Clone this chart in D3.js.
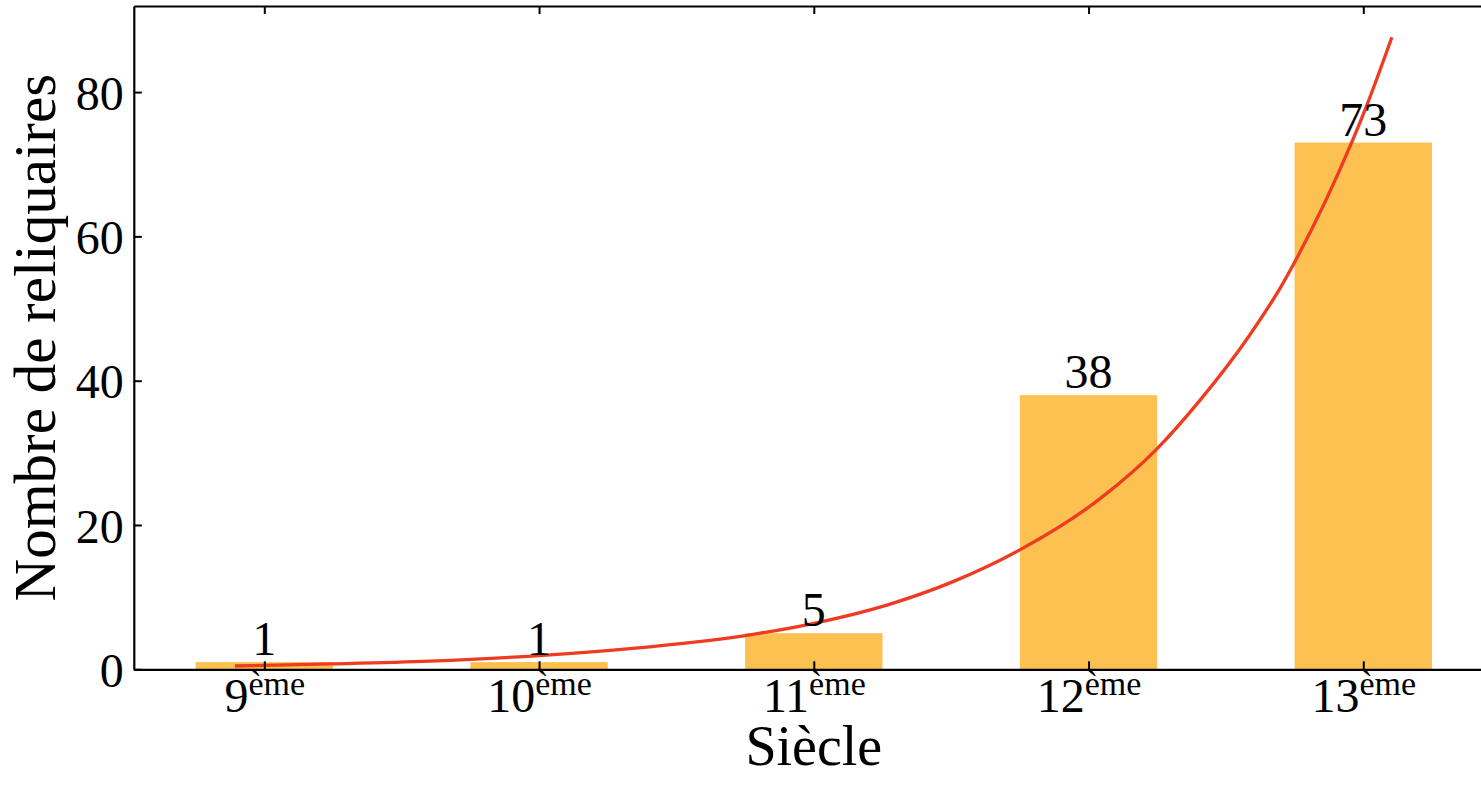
<!DOCTYPE html>
<html>
<head>
<meta charset="utf-8">
<script src="https://cdn.jsdelivr.net/npm/d3@7"></script>
<style>
  html, body { margin: 0; padding: 0; background: #fff; overflow: hidden; }
  svg { display: block; }
  text { font-family: "Liberation Serif", "DejaVu Serif", serif; fill: #000; }
</style>
</head>
<body>
<div id="chart"></div>
<script>
// data
const centuries = [9, 10, 11, 12, 13];
const counts = [1, 1, 5, 38, 73];
const centuryLabels = ["9", "10", "11", "12", "13"];
const yTicks = [0, 20, 40, 60, 80];
// fitted trend curve (century, value)
const trendX = [8.893, 9.0, 9.239, 9.603, 10.0, 10.331, 10.779, 11.001, 11.266, 11.507,
                11.75, 12.042, 12.249, 12.406, 12.588, 12.7, 12.744, 12.952, 13.006, 13.104];
const trendY = [0.46, 0.54, 0.74, 1.13, 1.9, 2.87, 4.85, 6.38, 8.9, 12.15,
                16.55, 23.65, 30.55, 37.3, 46.4, 53.0, 56.0, 72.5, 77.5, 87.6];

const svgWidth = 1481,
      svgHeight = 786,
      margin = {top: 6, left: 133.8},
      width = 1360,
      height = 663.3;

let scaleX = d3.scaleLinear().domain([8.525, 13.475]).range([0, width]),
    scaleY = d3.scaleLinear().domain([0, 91.93]).range([height, 0]);

let svg = d3.select("#chart")
  .append("svg")
  .attr("width", svgWidth)
  .attr("height", svgHeight);

let g = svg.append("g")
  .attr("transform", "translate(" + margin.left + "," + margin.top + ")");

// bars
g.selectAll("rect.bar")
  .data(centuries)
  .enter()
  .append("rect")
  .attr("class", "bar")
  .attr("x", (d) => scaleX(d - 0.25))
  .attr("width", scaleX(0.5) - scaleX(0))
  .attr("y", (d, i) => scaleY(counts[i]))
  .attr("height", (d, i) => height - scaleY(counts[i]))
  .attr("fill", "#fdc151");

// trend line
let line = d3.line()
  .x((d, i) => scaleX(trendX[i]))
  .y((d) => scaleY(d))
  .curve(d3.curveMonotoneX);

g.append("path")
  .datum(trendY)
  .attr("d", line)
  .attr("fill", "none")
  .attr("stroke", "#ee3b22")
  .attr("stroke-width", 3.3);

// value labels
g.selectAll("text.val")
  .data(centuries)
  .enter()
  .append("text")
  .attr("class", "val")
  .attr("x", (d) => scaleX(d))
  .attr("y", (d, i) => scaleY(counts[i]) - 7)
  .attr("text-anchor", "middle")
  .style("font-size", "48px")
  .text((d, i) => counts[i]);

// axes, ticks pointing inward on all four sides
function styleAxis(sel) {
  sel.attr("font-family", null).attr("font-size", null);
  sel.select(".domain").attr("stroke", "#000").attr("stroke-width", 2.2);
  sel.selectAll(".tick line").attr("stroke", "#000").attr("stroke-width", 2);
}

let xAxis = g.append("g")
  .attr("transform", "translate(0," + height + ")")
  .call(d3.axisBottom(scaleX).tickValues(centuries).tickSizeInner(-8).tickSizeOuter(0))
  .call(styleAxis);

xAxis.selectAll(".tick text")
  .attr("y", 42.7)
  .attr("dy", null)
  .style("font-size", "48px")
  .text(null)
  .each(function(d, i) {
    let t = d3.select(this);
    t.append("tspan").text(centuryLabels[i]);
    t.append("tspan").attr("dy", -17).style("font-size", "34px").text("ème");
  });

let yAxis = g.append("g")
  .call(d3.axisLeft(scaleY).tickValues(yTicks).tickSizeInner(-8).tickSizeOuter(0).tickPadding(10))
  .call(styleAxis);

yAxis.selectAll(".tick text")
  .attr("x", -10)
  .attr("dy", "0.36em")
  .style("font-size", "48px");

g.append("g")
  .call(d3.axisTop(scaleX).tickValues(centuries).tickSizeInner(-8).tickSizeOuter(0).tickFormat(""))
  .call(styleAxis);

g.append("g")
  .attr("transform", "translate(" + width + ",0)")
  .call(d3.axisRight(scaleY).tickValues(yTicks).tickSizeInner(-8).tickSizeOuter(0).tickFormat(""))
  .call(styleAxis);

// axis titles
svg.append("text")
  .attr("x", margin.left + width / 2)
  .attr("y", 765)
  .attr("text-anchor", "middle")
  .style("font-size", "56px")
  .text("Siècle");

svg.append("text")
  .attr("transform", "translate(55," + (margin.top + height / 2) + ")rotate(-90)")
  .attr("text-anchor", "middle")
  .style("font-size", "59px")
  .text("Nombre de reliquaires");
</script>
</body>
</html>
